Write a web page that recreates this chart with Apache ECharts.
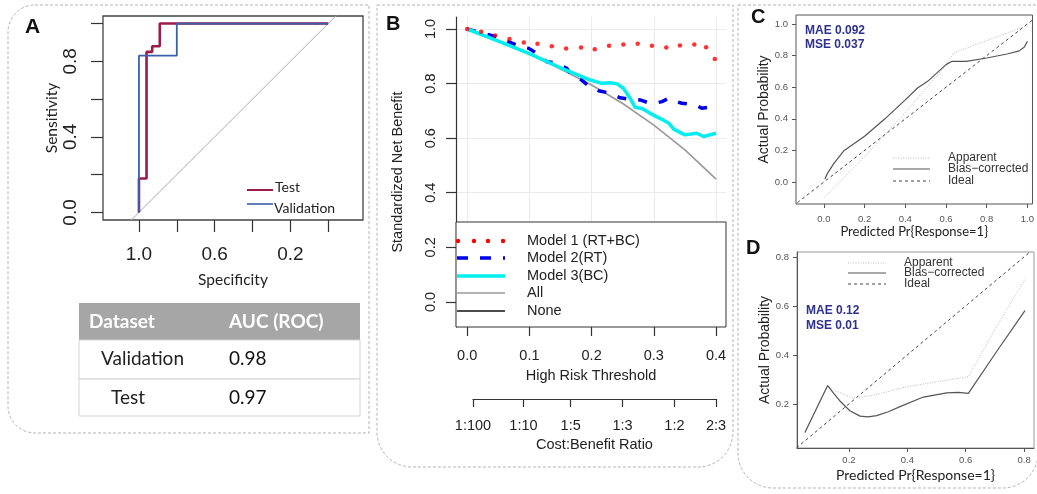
<!DOCTYPE html>
<html>
<head>
<meta charset="utf-8">
<script src="https://cdn.jsdelivr.net/npm/echarts@6/dist/echarts.min.js"></script>
<style>
html, body { margin: 0; padding: 0; background: #fff; }
#main { width: 1037px; height: 494px; }
</style>
</head>
<body>
<div id="main"></div>
<script>
// ---- panel A : ROC curves ----
var rocTestSpec = [1.0, 1.0, 0.96, 0.96, 0.93, 0.93, 0.89, 0.89, 0.0];
var rocTestSens = [0.0, 0.18, 0.18, 0.85, 0.85, 0.88, 0.88, 1.0, 1.0];
var rocValSpec = [1.0, 1.0, 0.8, 0.8, 0.0];
var rocValSens = [0.0, 0.83, 0.83, 1.0, 1.0];
var chanceSpec = [1.1, -0.1];
var chanceSens = [-0.1, 1.1];
var rocXTicks = [1.0, 0.8, 0.6, 0.4, 0.2, 0.0];
var rocXLabels = [1.0, 0.6, 0.2];
var rocYTicks = [0, 0.2, 0.4, 0.6, 0.8, 1.0];
var rocYLabels = [0, 0.4, 0.8];

var tableHead = ['Dataset', 'AUC (ROC)'];
var tableNames = ['Validation', 'Test'];
var tableAuc = ['0.98', '0.97'];

// ---- panel B : decision curves ----
var m1X = [0, 0.0225, 0.045, 0.068, 0.091, 0.113, 0.136, 0.159, 0.183, 0.205, 0.228, 0.251, 0.274, 0.297, 0.32, 0.342, 0.365, 0.384, 0.398];
var m1Y = [1.0, 0.99, 0.976, 0.963, 0.951, 0.946, 0.937, 0.929, 0.932, 0.926, 0.939, 0.943, 0.946, 0.939, 0.932, 0.94, 0.943, 0.933, 0.89];
var m2X = [0, 0.036, 0.047, 0.066, 0.08, 0.099, 0.109, 0.128, 0.139, 0.16, 0.166, 0.184, 0.195, 0.211, 0.225, 0.246, 0.257, 0.278, 0.291, 0.302, 0.313, 0.324, 0.335, 0.345, 0.356, 0.368, 0.377, 0.388, 0.396];
var m2Y = [1.0, 0.978, 0.972, 0.954, 0.941, 0.929, 0.915, 0.88, 0.877, 0.856, 0.835, 0.813, 0.792, 0.774, 0.767, 0.748, 0.744, 0.74, 0.73, 0.728, 0.734, 0.746, 0.735, 0.728, 0.725, 0.72, 0.71, 0.713, 0.718];
var m3X = [0, 0.05, 0.1, 0.15, 0.198, 0.217, 0.23, 0.241, 0.251, 0.262, 0.27, 0.281, 0.294, 0.313, 0.324, 0.332, 0.35, 0.369, 0.38, 0.4];
var m3Y = [1.0, 0.956, 0.91, 0.858, 0.813, 0.801, 0.803, 0.799, 0.783, 0.746, 0.713, 0.709, 0.691, 0.669, 0.655, 0.633, 0.612, 0.618, 0.606, 0.618];
var allX = [0, 0.05, 0.1, 0.15, 0.2, 0.25, 0.3, 0.35, 0.4];
var allY = [1.0, 0.957, 0.908, 0.853, 0.795, 0.727, 0.648, 0.557, 0.45];
var noneX = [0, 0.4];
var noneY = [0, 0];
var dcXTicks = [0, 0.1, 0.2, 0.3, 0.4];
var dcYTicks = [0, 0.2, 0.4, 0.6, 0.8, 1.0];
var ratioVals = [0.0099, 0.0909, 0.1667, 0.25, 0.3333, 0.4];
var ratioLabels = ['1:100', '1:10', '1:5', '1:3', '1:2', '2:3'];
var dcLegend = ['Model 1 (RT+BC)', 'Model 2(RT)', 'Model 3(BC)', 'All', 'None'];

// ---- panel C : calibration (validation) ----
var cAppX = [0.0, 0.1, 0.2, 0.3, 0.4, 0.5, 0.6, 0.635, 0.8, 1.0];
var cAppY = [-0.10, 0.03, 0.16, 0.30, 0.44, 0.59, 0.74, 0.815, 0.895, 0.99];
var cBiasX = [0.005, 0.02, 0.05, 0.1, 0.2, 0.3, 0.4, 0.46, 0.51, 0.6, 0.63, 0.7, 0.8, 0.9, 0.96, 0.985, 1.0];
var cBiasY = [0.02, 0.06, 0.12, 0.2, 0.29, 0.40, 0.52, 0.595, 0.637, 0.743, 0.764, 0.764, 0.785, 0.81, 0.83, 0.855, 0.89];
var cTicks = [0, 0.2, 0.4, 0.6, 0.8, 1.0];
var cMetrics = ['MAE 0.092', 'MSE 0.037'];

// ---- panel D : calibration (test) ----
var dAppX = [0.049, 0.127, 0.15, 0.215, 0.3, 0.398, 0.5, 0.609, 0.706, 0.803];
var dAppY = [0.08, 0.275, 0.255, 0.223, 0.24, 0.27, 0.29, 0.311, 0.516, 0.709];
var dBiasX = [0.049, 0.127, 0.15, 0.169, 0.203, 0.238, 0.265, 0.295, 0.335, 0.375, 0.455, 0.535, 0.575, 0.609, 0.706, 0.803];
var dBiasY = [0.083, 0.275, 0.24, 0.212, 0.172, 0.15, 0.147, 0.152, 0.168, 0.189, 0.228, 0.245, 0.247, 0.243, 0.414, 0.581];
var dTicks = [0.2, 0.4, 0.6, 0.8];
var dMetrics = ['MAE 0.12', 'MSE 0.01'];

var idealX = [-0.2, 1.1];
var idealY = [-0.2, 1.1];
var calLegend = ['Apparent', 'Bias\u2212corrected', 'Ideal'];

function pairs(xs, ys) {
    return xs.map(function (x, i) { return [x, ys[i]]; });
}
function fmt1(v) { return Number(v).toFixed(1); }
function ratioFmt(v) {
    for (var i = 0; i < ratioVals.length; i++) {
        if (Math.abs(ratioVals[i] - v) < 1e-6) return ratioLabels[i];
    }
    return '';
}

var arial = 'Liberation Sans';
var calibri = 'Lato';

function lineSeries(xi, data, style, z) {
    return {
        type: 'line', xAxisIndex: xi, yAxisIndex: xi,
        data: data, symbol: 'none', showSymbol: false, silent: true,
        lineStyle: style, z: z || 2, animation: false
    };
}

// little helpers for the hand-drawn legends / table
function gText(x, y, text, font, fill, align) {
    return { type: 'text', x: x, y: y, z: 20, silent: true,
        style: { text: text, font: font, fill: fill || '#222', align: align || 'left', verticalAlign: 'middle' } };
}
function gLine(x1, y1, x2, y2, stroke, width, dash) {
    return { type: 'line', z: 20, silent: true,
        shape: { x1: x1, y1: y1, x2: x2, y2: y2 },
        style: { stroke: stroke, lineWidth: width, lineDash: dash || null } };
}

var graphics = [];
// panel frames
var frameStyle = { fill: 'none', stroke: '#b3b3b3', lineWidth: 1, lineDash: [3, 2] };
graphics.push({ type: 'rect', z: 1, silent: true, shape: { x: 8, y: 5, width: 361, height: 428, r: [27, 0, 0, 27] }, style: frameStyle });
graphics.push({ type: 'rect', z: 1, silent: true, shape: { x: 377, y: 5, width: 356, height: 462, r: [0, 0, 35, 35] }, style: frameStyle });
graphics.push({ type: 'rect', z: 1, silent: true, shape: { x: 738, y: 5, width: 300, height: 483, r: [0, 0, 35, 35] }, style: frameStyle });
// panel letters
graphics.push(gText(25, 27, 'A', 'bold 21px "Liberation Sans"', '#111'));
graphics.push(gText(386, 24, 'B', 'bold 20px "Liberation Sans"', '#111'));
graphics.push(gText(751, 17, 'C', 'bold 20px "Liberation Sans"', '#111'));
graphics.push(gText(746, 248, 'D', 'bold 20px "Liberation Sans"', '#111'));

// A legend
graphics.push(gLine(247, 190, 273, 190, '#9b1b4d', 2));
graphics.push(gText(275, 187, 'Test', '14px Lato', '#222'));
graphics.push(gLine(247, 204, 273, 204, '#3b5fa9', 1.6));
graphics.push(gText(274, 208, 'Validation', '14px Lato', '#222'));

// A table
graphics.push({ type: 'rect', z: 5, silent: true, shape: { x: 79, y: 303, width: 281, height: 37 }, style: { fill: '#a6a6a6' } });
graphics.push({ type: 'rect', z: 5, silent: true, shape: { x: 79, y: 340, width: 281, height: 39 }, style: { fill: '#fff', stroke: '#d2d2d2', lineWidth: 1 } });
graphics.push({ type: 'rect', z: 5, silent: true, shape: { x: 79, y: 379, width: 281, height: 37 }, style: { fill: '#fff', stroke: '#d2d2d2', lineWidth: 1 } });
graphics.push(gText(89, 322, tableHead[0], 'bold 19px Lato', '#fff'));
graphics.push(gText(229, 322, tableHead[1], 'bold 19px Lato', '#fff'));
var rowY = [359, 398];
var rowNameX = [101, 111];
tableNames.forEach(function (n, i) {
    graphics.push(gText(rowNameX[i], rowY[i], n, '19px Lato', '#222'));
    graphics.push(gText(229, rowY[i], tableAuc[i], '19px Lato', '#111'));
});

// B legend box
graphics.push({ type: 'rect', z: 15, silent: true, shape: { x: 456, y: 222, width: 270, height: 105 }, style: { fill: '#fff', stroke: '#333', lineWidth: 1 } });
var legY = [241, 258, 276, 293, 311];
[458, 474, 488, 503].forEach(function (cx) {
    graphics.push({ type: 'circle', z: 20, silent: true, shape: { cx: cx, cy: legY[0], r: 2.2 }, style: { fill: '#ff0000' } });
});
graphics.push(gLine(457, legY[1], 505, legY[1], '#0000ee', 3.5, [11, 12]));
graphics.push(gLine(457, legY[2], 505, legY[2], '#00eeee', 3.5));
graphics.push(gLine(457, legY[3], 505, legY[3], '#999', 1.5));
graphics.push(gLine(457, legY[4], 505, legY[4], '#111', 1.5));
dcLegend.forEach(function (t, i) {
    graphics.push(gText(527, legY[i], t, '14.5px "Liberation Sans"', '#222'));
});

// C legend + metrics
var cLegY = [158, 169, 181];
graphics.push(gLine(893, cLegY[0], 930, cLegY[0], '#bbb', 1, [1, 1.5]));
graphics.push(gLine(893, cLegY[1], 930, cLegY[1], '#555', 1.2));
graphics.push(gLine(893, cLegY[2], 930, cLegY[2], '#444', 1, [3, 3]));
calLegend.forEach(function (t, i) {
    graphics.push(gText(948, cLegY[i], t, '12px "Liberation Sans"', '#333'));
});
graphics.push(gText(805, 31, cMetrics[0], 'bold 12px "Liberation Sans"', '#2e3192'));
graphics.push(gText(805, 45, cMetrics[1], 'bold 12px "Liberation Sans"', '#2e3192'));

// D legend + metrics
var dLegY = [263, 273, 284];
graphics.push(gLine(848, dLegY[0], 886, dLegY[0], '#bbb', 1, [1, 1.5]));
graphics.push(gLine(848, dLegY[1], 886, dLegY[1], '#555', 1.2));
graphics.push(gLine(848, dLegY[2], 886, dLegY[2], '#444', 1, [3, 3]));
calLegend.forEach(function (t, i) {
    graphics.push(gText(904, dLegY[i], t, '12px "Liberation Sans"', '#333'));
});
graphics.push(gText(806, 311, dMetrics[0], 'bold 12px "Liberation Sans"', '#2e3192'));
graphics.push(gText(806, 326, dMetrics[1], 'bold 12px "Liberation Sans"', '#2e3192'));

var tickDark = { color: '#333', width: 1.2 };
var smallLabel = { fontFamily: arial, fontSize: 9.5, color: '#555' };
var noLine = { show: false, onZero: false };

var option = {
    backgroundColor: '#fff',
    animation: false,
    grid: [
        { left: 103, top: 16, width: 260, height: 204, show: true, borderColor: '#444', borderWidth: 1.3, backgroundColor: 'transparent' },
        { left: 456, top: 17, width: 270, height: 310 },
        { left: 473, top: 389, width: 243, height: 10 },
        { left: 796, top: 15, width: 239, height: 189, show: true, borderColor: '#555', borderWidth: 1, backgroundColor: 'transparent' },
        { left: 797, top: 252, width: 237, height: 196, show: true, borderColor: '#999', borderWidth: 1, backgroundColor: 'transparent' }
    ],
    xAxis: [
        {
            gridIndex: 0, type: 'value', inverse: true, min: -0.184, max: 1.19,
            axisLine: noLine,
            axisTick: { show: true, length: 12, lineStyle: tickDark, customValues: rocXTicks },
            axisLabel: { customValues: rocXLabels, formatter: fmt1, fontFamily: arial, fontSize: 19, color: '#222', margin: 25 },
            splitLine: { show: false },
            name: 'Specificity', nameLocation: 'middle', nameGap: 52,
            nameTextStyle: { fontFamily: calibri, fontSize: 15.5, color: '#222' }
        },
        {
            gridIndex: 1, type: 'value', min: -0.018, max: 0.416,
            axisLine: noLine,
            axisTick: { show: true, length: 9, lineStyle: tickDark, customValues: dcXTicks },
            axisLabel: { customValues: dcXTicks, formatter: fmt1, fontFamily: arial, fontSize: 14.5, color: '#222', margin: 21 },
            splitLine: { show: true, lineStyle: { color: '#ebebeb', width: 1 } },
            name: 'High Risk Threshold', nameLocation: 'middle', nameGap: 41,
            nameTextStyle: { fontFamily: arial, fontSize: 14.5, color: '#222' }
        },
        {
            gridIndex: 2, type: 'value', min: ratioVals[0], max: ratioVals[ratioVals.length - 1],
            axisLine: { show: true, onZero: false, lineStyle: { color: '#333', width: 1.2 } },
            axisTick: { show: true, length: 8, lineStyle: tickDark, customValues: ratioVals },
            axisLabel: { customValues: ratioVals, formatter: ratioFmt, fontFamily: arial, fontSize: 14.5, color: '#222', margin: 19 },
            splitLine: { show: false },
            name: 'Cost:Benefit Ratio', nameLocation: 'middle', nameGap: 38,
            nameTextStyle: { fontFamily: arial, fontSize: 14.5, color: '#222' }
        },
        {
            gridIndex: 3, type: 'value', min: -0.137, max: 1.025,
            axisLine: noLine,
            axisTick: { show: true, length: 4, lineStyle: { color: '#555' }, customValues: cTicks },
            axisLabel: Object.assign({ customValues: cTicks, formatter: fmt1, margin: 10 }, smallLabel),
            splitLine: { show: false },
            name: 'Predicted Pr{Response=1}', nameLocation: 'middle', nameGap: 17,
            nameTextStyle: { fontFamily: calibri, fontSize: 13, color: '#222' }
        },
        {
            gridIndex: 4, type: 'value', min: 0.022, max: 0.834,
            axisLine: { show: true, onZero: false, lineStyle: { color: '#555' } },
            axisTick: { show: true, length: 4, lineStyle: { color: '#555' }, customValues: dTicks },
            axisLabel: Object.assign({ customValues: dTicks, formatter: fmt1, margin: 7 }, smallLabel),
            splitLine: { show: false },
            name: 'Predicted Pr{Response=1}', nameLocation: 'middle', nameGap: 20,
            nameTextStyle: { fontFamily: calibri, fontSize: 14, color: '#222' }
        }
    ],
    yAxis: [
        {
            gridIndex: 0, type: 'value', min: -0.04, max: 1.04,
            axisLine: noLine,
            axisTick: { show: true, length: 12, lineStyle: tickDark, customValues: rocYTicks },
            axisLabel: { customValues: rocYLabels, formatter: fmt1, rotate: 90, fontFamily: arial, fontSize: 19, color: '#222', margin: 23 },
            splitLine: { show: false },
            name: 'Sensitivity', nameLocation: 'middle', nameGap: 42,
            nameTextStyle: { fontFamily: calibri, fontSize: 15.5, color: '#222' }
        },
        {
            gridIndex: 1, type: 'value', min: -0.092, max: 1.044,
            axisLine: { show: true, onZero: false, lineStyle: { color: '#333', width: 1.2 } },
            axisTick: { show: true, length: 10, lineStyle: tickDark, customValues: dcYTicks },
            axisLabel: { customValues: dcYTicks, formatter: fmt1, rotate: 90, fontFamily: arial, fontSize: 14.5, color: '#222', margin: 18 },
            splitLine: { show: true, lineStyle: { color: '#ebebeb', width: 1 } },
            name: 'Standardized Net Benefit', nameLocation: 'middle', nameGap: 51,
            nameTextStyle: { fontFamily: arial, fontSize: 14.5, color: '#222' }
        },
        { gridIndex: 2, type: 'value', show: false },
        {
            gridIndex: 3, type: 'value', min: -0.139, max: 1.057,
            axisLine: noLine,
            axisTick: { show: true, length: 4, lineStyle: { color: '#555' }, customValues: cTicks },
            axisLabel: Object.assign({ customValues: cTicks, formatter: fmt1, margin: 8 }, smallLabel),
            splitLine: { show: false },
            name: 'Actual Probability', nameLocation: 'middle', nameGap: 24,
            nameTextStyle: { fontFamily: arial, fontSize: 14, color: '#222' }
        },
        {
            gridIndex: 4, type: 'value', min: 0.02, max: 0.82,
            axisLine: { show: true, onZero: false, lineStyle: { color: '#555' } },
            axisTick: { show: true, length: 4, lineStyle: { color: '#555' }, customValues: dTicks },
            axisLabel: Object.assign({ customValues: dTicks, formatter: fmt1, margin: 8 }, smallLabel),
            splitLine: { show: false },
            name: 'Actual Probability', nameLocation: 'middle', nameGap: 23,
            nameTextStyle: { fontFamily: arial, fontSize: 14, color: '#222' }
        }
    ],
    graphic: graphics,
    series: [
        // A
        lineSeries(0, pairs(chanceSpec, chanceSens), { color: '#aaa', width: 1 }),
        lineSeries(0, pairs(rocTestSpec, rocTestSens), { color: '#9b1b4d', width: 2.6 }, 3),
        lineSeries(0, pairs(rocValSpec, rocValSens), { color: '#3b5fa9', width: 1.8 }, 4),
        // B
        lineSeries(1, pairs(allX, allY), { color: '#999', width: 1.6 }),
        lineSeries(1, pairs(noneX, noneY), { color: '#111', width: 1.5 }),
        lineSeries(1, pairs(m2X, m2Y), { color: '#0000ee', width: 3.5, type: [9, 12] }, 3),
        lineSeries(1, pairs(m3X, m3Y), { color: '#00eeee', width: 3.5 }, 4),
        {
            type: 'scatter', xAxisIndex: 1, yAxisIndex: 1, data: pairs(m1X, m1Y),
            symbol: 'circle', symbolSize: 4.5, itemStyle: { color: '#ff0000' }, silent: true, z: 5
        },
        // C
        lineSeries(3, pairs(idealX, idealY), { color: '#444', width: 1, type: [3, 3] }),
        lineSeries(3, pairs(cAppX, cAppY), { color: '#bbb', width: 1, type: [1, 1.5] }),
        lineSeries(3, pairs(cBiasX, cBiasY), { color: '#555', width: 1.2 }, 3),
        // D
        lineSeries(4, pairs(idealX, idealY), { color: '#444', width: 1, type: [3, 3] }),
        lineSeries(4, pairs(dAppX, dAppY), { color: '#bbb', width: 1, type: [1, 1.5] }),
        lineSeries(4, pairs(dBiasX, dBiasY), { color: '#555', width: 1.2 }, 3)
    ]
};

var chart = echarts.init(document.getElementById('main'));
chart.setOption(option);
</script>
</body>
</html>
